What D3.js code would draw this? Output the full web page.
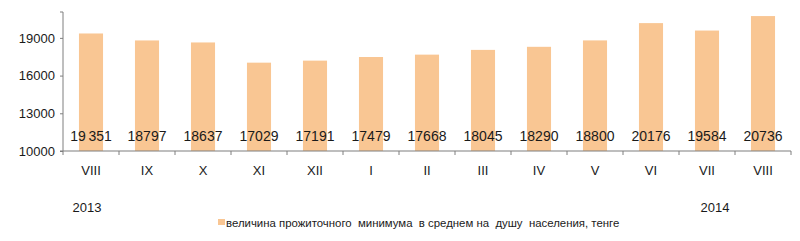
<!DOCTYPE html>
<html>
<head>
<meta charset="utf-8">
<script src="https://cdn.jsdelivr.net/npm/d3@7"></script>
<style>
  body { margin: 0; background: #fff; }
  svg { display: block; font-family: "Liberation Sans", Arial, sans-serif; }
</style>
</head>
<body>
<svg id="chart" width="800" height="241"></svg>
<script>
// --- DATA ---
const months = ["VIII", "IX", "X", "XI", "XII", "I", "II", "III", "IV", "V", "VI", "VII", "VIII"];
const values = [19351, 18797, 18637, 17029, 17191, 17479, 17668, 18045, 18290, 18800, 20176, 19584, 20736];
const valueLabels = ["19\u2009351", "18797", "18637", "17029", "17191", "17479", "17668", "18045", "18290", "18800", "20176", "19584", "20736"];
const yTicks = [10000, 13000, 16000, 19000];
const yearLabels = [{ text: "2013", idx: 0, shift: -4 }, { text: "2014", idx: 11, shift: 8 }];
const legendText = "величина прожиточного  минимума  в среднем на  душу  населения, тенге";

// --- LAYOUT ---
const plotLeft = 63, plotRight = 791, plotTop = 12, plotBottom = 151;
const barColor = "#f9c693";
const axisColor = "#7f7f7f";

const svg = d3.select("#chart");

const x = d3.scaleBand()
    .domain(months.map((m, i) => i))
    .range([plotLeft, plotRight])
    .paddingInner(0.57)
    .paddingOuter(0.285);

const y = d3.scaleLinear()
    .domain([10000, 21060])
    .range([plotBottom, plotTop]);

// bars
svg.append("g")
  .selectAll("rect")
  .data(values)
  .join("rect")
    .attr("x", (d, i) => x(i))
    .attr("y", d => y(d))
    .attr("width", x.bandwidth())
    .attr("height", d => y(10000) - y(d))
    .attr("fill", barColor);

// value labels inside bars
svg.append("g")
  .selectAll("text")
  .data(valueLabels)
  .join("text")
    .attr("x", (d, i) => x(i) + x.bandwidth() / 2)
    .attr("y", 141)
    .attr("text-anchor", "middle")
    .attr("font-size", 14)
    .attr("fill", "#1a1a1a")
    .text(d => d);

// y axis
const yAxis = d3.axisLeft(y).tickValues(yTicks).tickSize(3).tickFormat(d3.format("d"));
const gy = svg.append("g").attr("transform", `translate(${plotLeft},0)`).call(yAxis);
gy.select(".domain").attr("stroke", axisColor).attr("d", `M-3,${plotTop}H0V${plotBottom}`);
gy.selectAll(".tick line").attr("stroke", axisColor);
gy.selectAll(".tick text").attr("font-size", 13).attr("fill", "#1a1a1a")
    .attr("font-family", "Liberation Sans, Arial, sans-serif").attr("x", -8);

// x axis baseline with boundary ticks
const boundaries = d3.range(months.length + 1).map(i => plotLeft + i * (plotRight - plotLeft) / months.length);
svg.append("line")
    .attr("x1", plotLeft - 3).attr("x2", plotRight)
    .attr("y1", plotBottom).attr("y2", plotBottom)
    .attr("stroke", axisColor).attr("stroke-width", 1.2);
svg.append("g")
  .selectAll("line")
  .data(boundaries)
  .join("line")
    .attr("x1", d => d).attr("x2", d => d)
    .attr("y1", plotBottom).attr("y2", plotBottom + 4)
    .attr("stroke", axisColor);

// month labels
svg.append("g")
  .selectAll("text")
  .data(months)
  .join("text")
    .attr("x", (d, i) => x(i) + x.bandwidth() / 2)
    .attr("y", 175)
    .attr("text-anchor", "middle")
    .attr("font-size", 13)
    .attr("fill", "#1a1a1a")
    .text(d => d);

// year labels
svg.append("g")
  .selectAll("text")
  .data(yearLabels)
  .join("text")
    .attr("x", d => x(d.idx) + x.bandwidth() / 2 + d.shift)
    .attr("y", 212)
    .attr("text-anchor", "middle")
    .attr("font-size", 13)
    .attr("fill", "#1a1a1a")
    .text(d => d.text);

// legend
const legend = svg.append("g").attr("transform", "translate(218,219)");
legend.append("rect").attr("width", 7).attr("height", 6).attr("fill", barColor);
legend.append("text")
    .attr("x", 8).attr("y", 8)
    .attr("font-size", 11.4)
    .attr("fill", "#1a1a1a")
    .style("white-space", "pre")
    .text(legendText);
</script>
</body>
</html>
